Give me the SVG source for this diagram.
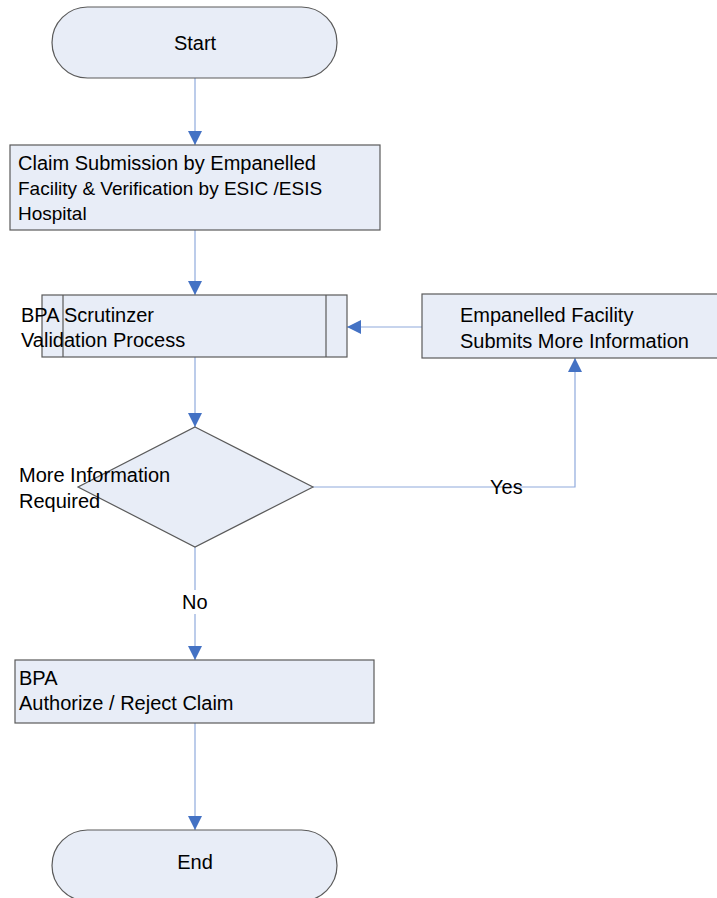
<svg xmlns="http://www.w3.org/2000/svg" width="717" height="898" viewBox="0 0 717 898">
<defs>
<style>
.shape{fill:#E8EDF7;stroke:#5a5a5a;stroke-width:1.2}
.t{font-family:"Liberation Sans",Arial,sans-serif;font-size:20px;fill:#000}
.s{font-size:19px}
.c{fill:none;stroke:#8FAADC;stroke-width:1.2}
</style>
<marker id="arr" viewBox="0 0 10 10" refX="10" refY="5" markerWidth="14" markerHeight="14" markerUnits="userSpaceOnUse" orient="auto">
<path d="M0,0 L10,5 L0,10 z" fill="#4472C4"/>
</marker>
</defs>
<rect width="717" height="898" fill="#fff"/>
<g id="connectors">
<path class="c" d="M195,78 V145" marker-end="url(#arr)"/>
<path class="c" d="M195,230 V295" marker-end="url(#arr)"/>
<path class="c" d="M195,357 V427" marker-end="url(#arr)"/>
<path class="c" d="M195,547 V660" marker-end="url(#arr)"/>
<path class="c" d="M195,723 V830" marker-end="url(#arr)"/>
<path class="c" d="M313,487 H575 V358" marker-end="url(#arr)"/>
<path class="c" d="M422,327 H347" marker-end="url(#arr)"/>
<text class="t" x="490" y="494">Yes</text>
<rect x="178" y="590" width="34" height="24" fill="#fff"/>
<text class="t" x="182" y="609">No</text>
</g>
<g id="start">
<rect class="shape" x="52" y="7" width="285" height="71" rx="35.5"/>
<text class="t" x="195" y="50" text-anchor="middle">Start</text>
</g>
<g id="claim">
<rect class="shape" x="10" y="145" width="370" height="85"/>
<text class="t" x="18" y="170">Claim Submission by Empanelled</text>
<text class="t s" x="18" y="195">Facility &amp; Verification by ESIC /ESIS</text>
<text class="t s" x="18" y="220">Hospital</text>
</g>
<g id="scrutinizer">
<rect class="shape" x="42" y="295" width="305" height="62"/>
<line x1="63" y1="295" x2="63" y2="357" stroke="#5a5a5a" stroke-width="1.2"/>
<line x1="326" y1="295" x2="326" y2="357" stroke="#5a5a5a" stroke-width="1.2"/>
<text class="t" x="21" y="322">BPA Scrutinzer</text>
<text class="t" x="21" y="347">Validation Process</text>
</g>
<g id="facility">
<rect class="shape" x="422" y="294" width="300" height="64"/>
<text class="t" x="460" y="322">Empanelled Facility</text>
<text class="t" x="460" y="348">Submits More Information</text>
</g>
<g id="decision">
<polygon class="shape" points="195,427 313,487 195,547 78,487"/>
<text class="t" x="19" y="482">More Information</text>
<text class="t" x="19" y="508">Required</text>
</g>
<g id="authorize">
<rect class="shape" x="15" y="660" width="359" height="63"/>
<text class="t" x="19" y="685">BPA</text>
<text class="t" x="19" y="710">Authorize / Reject Claim</text>
</g>
<g id="end">
<rect class="shape" x="52" y="830" width="285" height="71" rx="35.5"/>
<text class="t" x="195" y="869" text-anchor="middle">End</text>
</g>
</svg>
